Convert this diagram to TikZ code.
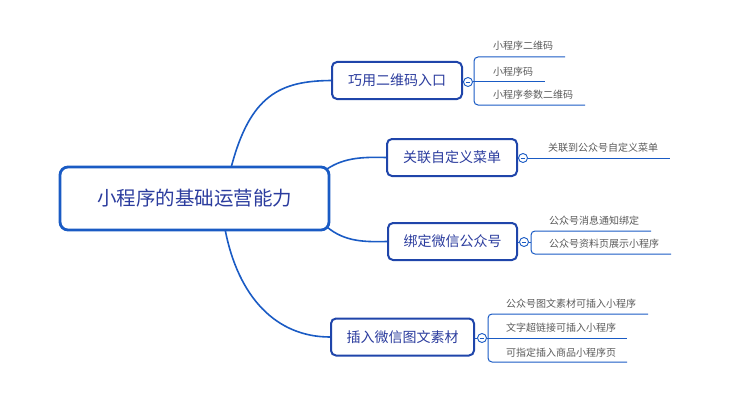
\documentclass[tikz,border=0pt]{standalone}
\usepackage{fontspec}
\setmainfont{Noto Sans CJK SC}
\definecolor{conn}{HTML}{1A5BC4}
\definecolor{bbord}{HTML}{1F45AA}
\definecolor{btext}{HTML}{2B3C9E}
\definecolor{ctext}{HTML}{5A5A5A}
\tikzset{
  rootbox/.style={draw=conn,line width=2.8pt,rounded corners=8pt,fill=white,
    minimum width=269pt,minimum height=63pt,inner sep=0pt,
    text=btext,font=\fontsize{19.5pt}{22pt}\selectfont},
  branchbox/.style={draw=bbord,line width=2pt,rounded corners=5pt,fill=white,
    minimum height=37pt,inner sep=0pt,
    text=btext,font=\fontsize{14pt}{16pt}\selectfont},
  leaf/.style={anchor=west,inner sep=0pt,text=ctext,font=\fontsize{10pt}{12pt}\selectfont},
  link/.style={draw=conn,line width=1.6pt},
  uline/.style={draw=conn,line width=1pt},
  toggle/.style={circle,draw=conn,line width=0.9pt,fill=white,minimum size=9pt,inner sep=0pt,
    path picture={\draw[conn,line width=0.8pt] ([xshift=-2.3pt]path picture bounding box.center) -- ([xshift=2.3pt]path picture bounding box.center);}}
}
\begin{document}
\begin{tikzpicture}[x=1pt,y=-1pt]
\useasboundingbox (0,0) rectangle (731,404);
% root connectors' start points on the root border
\coordinate (r1) at (231,168);
\coordinate (r2) at (327,169);
\coordinate (r3) at (327,227);
\coordinate (r4) at (225,229);
% branches
\node[branchbox,minimum width=130pt] (b1) at (397,80.5) {巧用二维码入口};
\node[branchbox,minimum width=130pt] (b2) at (452,157.5) {关联自定义菜单};
\node[branchbox,minimum width=129pt] (b3) at (452.5,241.5) {绑定微信公众号};
\node[branchbox,minimum width=143pt] (b4) at (402.5,337) {插入微信图文素材};
\draw[link] (r1) .. controls (250,95) and (280,81) .. (b1.west);
\draw[link] (r2) .. controls (345,157) and (365,157) .. (b2.west);
\draw[link] (r3) .. controls (345,242) and (365,242) .. (b3.west);
\draw[link] (r4) .. controls (238,297) and (276,337) .. (b4.west);
% root
\node[rootbox] (root) at (194.5,198.5) {小程序的基础运营能力};
% toggles
\node[toggle] (t1) at (468,82) {};
\node[toggle] (t2) at (523,158) {};
\node[toggle] (t3) at (524,242) {};
\node[toggle] (t4) at (482,338) {};
\draw[uline] (b1.east |- t1) -- (t1.west);
\draw[uline] (b2.east |- t2) -- (t2.west);
\draw[uline] (b3.east |- t3) -- (t3.west);
\draw[uline] (b4.east |- t4) -- (t4.west);
% branch 1 leaves
\node[leaf] (l11) at (493,46) {小程序二维码};
\node[leaf] (l12) at (493,71.5) {小程序码};
\node[leaf] (l13) at (493,95) {小程序参数二维码};
\coordinate (e11) at (565,57);
\coordinate (e12) at (545,82);
\coordinate (e13) at (585,105);
\draw[uline,rounded corners=4pt] (e11) -- (474,57) -- (474,105) -- (e13);
\draw[uline] (t1.east) -- (e12);
% branch 2 leaf
\node[leaf] (l21) at (548,148) {关联到公众号自定义菜单};
\coordinate (e21) at (670,158);
\draw[uline] (t2.east) -- (e21);
% branch 3 leaves
\node[leaf] (l31) at (549,221) {公众号消息通知绑定};
\node[leaf] (l32) at (549,244) {公众号资料页展示小程序};
\coordinate (e31) at (651,231);
\coordinate (e32) at (671,254);
\draw[uline,rounded corners=4pt] (e31) -- (531,231) -- (531,254) -- (e32);
\draw[uline] (t3.east) -- (531,242);
% branch 4 leaves
\node[leaf] (l41) at (506,304) {公众号图文素材可插入小程序};
\node[leaf] (l42) at (506,328) {文字超链接可插入小程序};
\node[leaf] (l43) at (506,352.5) {可指定插入商品小程序页};
\coordinate (e41) at (648,314);
\coordinate (e42) at (627,338);
\coordinate (e43) at (627,362);
\draw[uline,rounded corners=4pt] (e41) -- (488,314) -- (488,362) -- (e43);
\draw[uline] (t4.east) -- (e42);
\end{tikzpicture}
\end{document}
